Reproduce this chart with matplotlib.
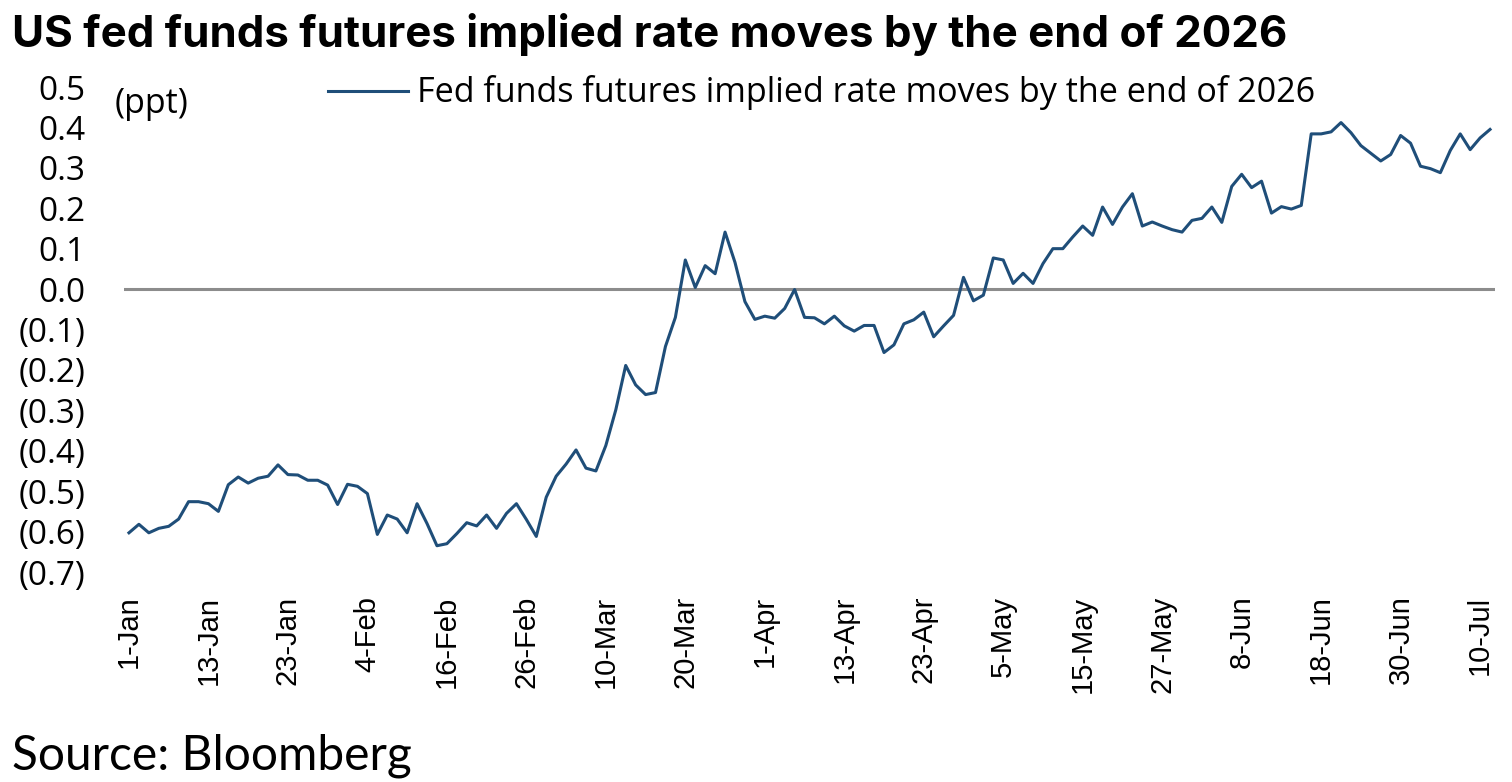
import matplotlib
matplotlib.use("Agg")
import matplotlib.pyplot as plt
import numpy as np

# fed funds futures implied move (ppt), one value per business day, 1-Jan .. 11-Jul
rate_moves = [
    -0.603, -0.582, -0.603, -0.592, -0.587, -0.569, -0.526, -0.526, -0.531, -0.550,
    -0.484, -0.465, -0.480, -0.468, -0.463, -0.435, -0.459, -0.460, -0.473, -0.473,
    -0.485, -0.533, -0.483, -0.488, -0.506, -0.607, -0.559, -0.569, -0.603, -0.531,
    -0.580, -0.635, -0.630, -0.605, -0.578, -0.586, -0.559, -0.592, -0.555, -0.531,
    -0.570, -0.612, -0.515, -0.463, -0.433, -0.398, -0.443, -0.450, -0.387, -0.299,
    -0.189, -0.237, -0.261, -0.256, -0.142, -0.070, 0.072, 0.004, 0.058, 0.038,
    0.141, 0.066, -0.031, -0.075, -0.067, -0.072, -0.048, -0.001, -0.070, -0.071,
    -0.086, -0.067, -0.091, -0.104, -0.090, -0.090, -0.157, -0.138, -0.086, -0.076,
    -0.057, -0.118, -0.091, -0.065, 0.029, -0.029, -0.015, 0.077, 0.072, 0.014,
    0.039, 0.014, 0.063, 0.100, 0.100, 0.129, 0.156, 0.133, 0.203, 0.160,
    0.203, 0.236, 0.156, 0.166, 0.156, 0.147, 0.141, 0.170, 0.175, 0.203,
    0.165, 0.254, 0.284, 0.251, 0.267, 0.188, 0.204, 0.198, 0.207, 0.384,
    0.384, 0.389, 0.412, 0.387, 0.355, 0.336, 0.317, 0.333, 0.380, 0.361,
    0.304, 0.298, 0.288, 0.343, 0.384, 0.345, 0.374, 0.395,
]

# tick every 8th business day
tick_labels = ['1-Jan', '13-Jan', '23-Jan', '4-Feb', '16-Feb', '26-Feb', '10-Mar',
               '20-Mar', '1-Apr', '13-Apr', '23-Apr', '5-May', '15-May', '27-May',
               '8-Jun', '18-Jun', '30-Jun', '10-Jul']
tick_step = 8

y_ticks = [0.5, 0.4, 0.3, 0.2, 0.1, 0.0, -0.1, -0.2, -0.3, -0.4, -0.5, -0.6, -0.7]

def fmt(v):
    if v < -1e-9:
        return '({:.1f})'.format(-v)
    return '{:.1f}'.format(abs(v))

W, H = 1512, 782
fig = plt.figure(figsize=(W / 100, H / 100), dpi=100)
ax = fig.add_axes([124 / W, 1 - 572 / H, (1495 - 124) / W, (572 - 87) / H])

days = np.arange(len(rate_moves))
ax.axhline(0, color='#8c8c8c', linewidth=2.2, zorder=1)
ax.plot(days, rate_moves, color='#1f4e79', linewidth=2.2, zorder=2,
        label='Fed funds futures implied rate moves by the end of 2026')

ax.set_xlim(-0.5, len(rate_moves) - 0.5)
ax.set_ylim(-0.7, 0.5)

ax.set_xticks(np.arange(len(tick_labels)) * tick_step)
ax.set_xticklabels(tick_labels, rotation=90, fontsize=21, family='Liberation Sans')
ax.set_yticks(y_ticks)
ax.set_yticklabels([fmt(v) for v in y_ticks], fontsize=24, family='Open Sans')
ax.tick_params(axis='x', length=0, pad=17)
ax.tick_params(axis='y', length=0, pad=28)
for lab in ax.get_yticklabels():
    lab.set_horizontalalignment('right')

for s in ax.spines.values():
    s.set_visible(False)

ax.legend(loc='center left', bbox_to_anchor=(328 / W, 1 - 93 / H),
          bbox_transform=fig.transFigure, frameon=False, borderpad=0,
          borderaxespad=0, handlelength=2.35, handletextpad=0.25,
          prop={'family': 'Open Sans', 'size': 24.6})

fig.text(115 / W, 1 - 104 / H, '(ppt)', fontsize=24.5, family='Open Sans', va='center')
fig.text(12 / W, 1 - 35 / H, 'US fed funds futures implied rate moves by the end of 2026',
         fontsize=31.6, family='Inter', weight='bold', va='center')
fig.text(12 / W, 1 - 756 / H, 'Source: Bloomberg', fontsize=34.5, family='Lato', va='center')

fig.savefig('out.png', dpi=100)
